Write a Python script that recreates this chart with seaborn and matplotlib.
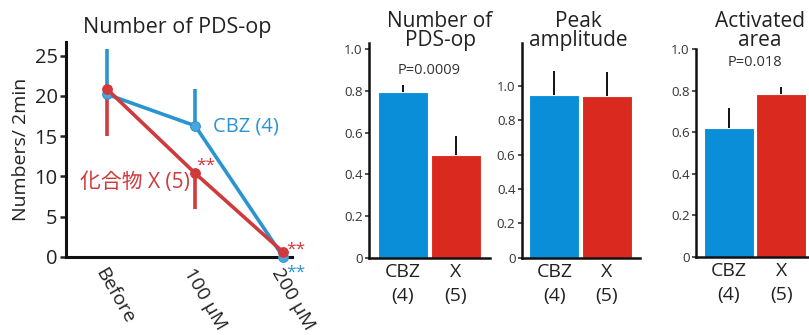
import matplotlib
matplotlib.use("Agg")
import matplotlib.pyplot as plt
import seaborn as sns
import pandas as pd
import numpy as np

sns.set_theme(style="white")
plt.rcParams['font.family'] = ['Open Sans', 'Noto Sans CJK JP', 'DejaVu Sans']

# ---------------- data ----------------
conditions = ["Before", "100 µM", "200 µM"]
cbz_mean = [20.2, 16.3, 0.0]
cbz_err = [5.6, 4.6, 0.0]          # drawn upward
x_mean = [20.85, 10.4, 0.6]
x_err = [5.85, 4.5, 0.0]           # drawn downward

groups = ["CBZ\n(4)", "X\n(5)"]
pds_vals = [0.797, 0.493]
pds_err = [0.033, 0.093]
amp_vals = [0.951, 0.940]
amp_err = [0.136, 0.143]
area_vals = [0.619, 0.785]
area_err = [0.10, 0.035]

line_blue = "#2a94d0"
line_red = "#cf3a3c"
bar_blue = "#0b8ed8"
bar_red = "#da2a1f"
txt = "#222222"

W, H = 809, 335
fig = plt.figure(figsize=(W / 100, H / 100), dpi=100)

def ax_px(x0, x1, ytop, ybot):
    return fig.add_axes([x0 / W, 1 - ybot / H, (x1 - x0) / W, (ybot - ytop) / H])

# ---------------- left panel ----------------
ax = ax_px(66, 292, 42, 257)
df_line = pd.DataFrame({
    "cond": list(range(3)) * 2,
    "val": cbz_mean + x_mean,
    "grp": ["CBZ"] * 3 + ["X"] * 3,
})
pos = np.arange(3)
ax.vlines(pos, cbz_mean, np.array(cbz_mean) + np.array(cbz_err), color=line_blue, lw=2.6, zorder=2)
ax.vlines(pos, x_mean, np.array(x_mean) - np.array(x_err), color=line_red, lw=2.6, zorder=2)
sns.lineplot(data=df_line, x="cond", y="val", hue="grp", palette={"CBZ": line_blue, "X": line_red},
             marker="o", markersize=7, lw=2.6, ax=ax, legend=False, zorder=3)
for ln in ax.lines:
    ln.set_clip_on(False)
ax.lines[0].set_markerfacecolor("#4aa6dc")
ax.lines[0].set_markeredgecolor(line_blue)
ax.lines[1].set_markeredgecolor(line_red)
ax.set_xlim(-0.466, 2.10)
ax.set_ylim(0, 26.7)
ax.set_yticks([0, 5, 10, 15, 20, 25])
ax.set_xticks(pos)
ax.set_xticklabels(conditions, rotation=-60, ha="left", va="top", rotation_mode="anchor",
                   fontsize=14, color=txt)
ax.tick_params(axis="x", length=0, pad=6)
ax.tick_params(axis="y", length=4, width=1.8, direction="out", left=True, labelsize=14.5,
               colors=txt, pad=2)
ax.set_xlabel("")
ax.set_ylabel("Numbers/ 2min", fontsize=14, color=txt, labelpad=3)
for s in ["top", "right"]:
    ax.spines[s].set_visible(False)
for s in ["left", "bottom"]:
    ax.spines[s].set_linewidth(2.2)
    ax.spines[s].set_color("#111111")
ax.text(1.58, 16.2, "CBZ (4)", color=line_blue, fontsize=14.5, ha="center", va="center")
ax.text(0.32, 9.2, "化合物 X (5)", color=line_red, fontsize=15, ha="center", va="center")
ax.text(1.01, 11.4, "**", color=line_red, fontsize=12.5, ha="left", va="center")
ax.text(2.03, 0.9, "**", color=line_red, fontsize=12.5, ha="left", va="center", clip_on=False)
ax.text(2.03, -1.9, "**", color=line_blue, fontsize=12.5, ha="left", va="center", clip_on=False)
fig.text(177 / W, 1 - 27 / H, "Number of PDS-op", ha="center", va="center", fontsize=15.5, color=txt)

# ---------------- bar panels ----------------
def bar_panel(rect, vals, errs, ylim, yticks, ylabels, xlim):
    a = ax_px(*rect)
    d = pd.DataFrame({"grp": groups, "val": vals})
    sns.barplot(data=d, x="grp", y="val", hue="grp", palette=[bar_blue, bar_red], saturation=1,
                width=0.95, ax=a, legend=False, errorbar=None, edgecolor="white", linewidth=0.8)
    a.vlines(np.arange(2), vals, np.array(vals) + np.array(errs), color="#111111", lw=1.4, zorder=5)
    a.set_ylim(*ylim)
    a.set_xlim(*xlim)
    a.set_yticks(yticks)
    a.set_yticklabels(ylabels)
    a.tick_params(axis="y", length=3, width=1.2, direction="out", left=True, labelsize=9.5,
                  colors="#333333", pad=1.5)
    a.tick_params(axis="x", length=0, labelsize=14, colors=txt, pad=4)
    for lab in a.get_xticklabels():
        lab.set_linespacing(1.4)
    a.set_xlabel("")
    a.set_ylabel("")
    for s in ["top", "right"]:
        a.spines[s].set_visible(False)
    for s in ["left", "bottom"]:
        a.spines[s].set_linewidth(1.8)
        a.spines[s].set_color("#111111")
    return a

yt = [0, 0.2, 0.4, 0.6, 0.8, 1.0]
yl = ["0", "0.2", "0.4", "0.6", "0.8", "1.0"]

a2 = bar_panel((369, 490, 43.3, 257.7), pds_vals, pds_err, (0, 1.029), yt, yl, (-0.636, 1.647))
a2.text(0.5, 0.90, "P=0.0009", ha="center", va="center", fontsize=10.5, color="#333333")
fig.text(440 / W, 1 - 31 / H, "Number of\nPDS-op", ha="center", va="center", fontsize=15,
         color=txt, linespacing=0.85)

a3 = bar_panel((521.7, 640, 43.3, 257.7), amp_vals, amp_err, (0, 1.25), yt, yl, (-0.62, 1.63))
fig.text(578 / W, 1 - 31 / H, "Peak\namplitude", ha="center", va="center", fontsize=15,
         color=txt, linespacing=0.85)

a4 = bar_panel((696, 809, 49.3, 256.7), area_vals, area_err, (0, 1.0), yt, yl, (-0.625, 1.53))
a4.text(0.5, 0.935, "P=0.018", ha="center", va="center", fontsize=10.5, color="#333333")
fig.text(760 / W, 1 - 31 / H, "Activated\narea", ha="center", va="center", fontsize=15,
         color=txt, linespacing=0.85)

fig.savefig("out.png", dpi=100)
